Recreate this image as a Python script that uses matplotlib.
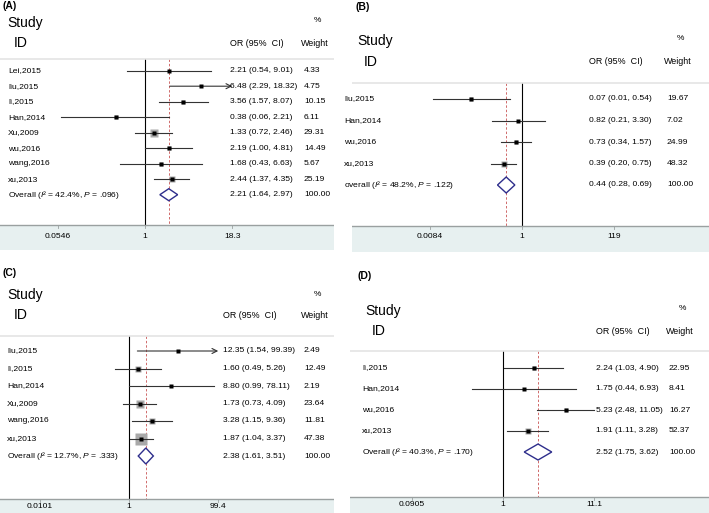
import numpy as np
import matplotlib
matplotlib.use("Agg")
import matplotlib.pyplot as plt

plt.rcParams['font.family'] = ['Liberation Sans', 'DejaVu Sans']
plt.rcParams['mathtext.fontset'] = 'custom'
plt.rcParams['mathtext.rm'] = 'Liberation Sans'
plt.rcParams['mathtext.it'] = 'Liberation Sans:italic'

# panel A
names_a = ['Lei,2015', 'liu,2015', 'li,2015', 'Han,2014', 'Xu,2009', 'wu,2016', 'wang,2016', 'xu,2013']
or_a = [2.21, 6.48, 3.56, 0.38, 1.33, 2.19, 1.68, 2.44]
lo_a = [0.54, 2.29, 1.57, 0.06, 0.72, 1.00, 0.43, 1.37]
hi_a = [9.01, 18.32, 8.07, 2.21, 2.46, 4.81, 6.63, 4.35]
w_a = [4.33, 4.75, 10.15, 6.11, 29.31, 14.49, 5.67, 25.19]
overall_a = [2.21, 1.64, 2.97]
het_a = ['Overall', '42.4%', '.096']
ticks_a = [0.0546, 1, 18.3]

# panel B
names_b = ['liu,2015', 'Han,2014', 'wu,2016', 'xu,2013']
or_b = [0.07, 0.82, 0.73, 0.39]
lo_b = [0.01, 0.21, 0.34, 0.20]
hi_b = [0.54, 3.30, 1.57, 0.75]
w_b = [19.67, 7.02, 24.99, 48.32]
overall_b = [0.44, 0.28, 0.69]
het_b = ['overall', '48.2%', '.122']
ticks_b = [0.0084, 1, 119]

# panel C
names_c = ['liu,2015', 'li,2015', 'Han,2014', 'Xu,2009', 'wang,2016', 'xu,2013']
or_c = [12.35, 1.60, 8.80, 1.73, 3.28, 1.87]
lo_c = [1.54, 0.49, 0.99, 0.73, 1.15, 1.04]
hi_c = [99.39, 5.26, 78.11, 4.09, 9.36, 3.37]
w_c = [2.49, 12.49, 2.19, 23.64, 11.81, 47.38]
overall_c = [2.38, 1.61, 3.51]
het_c = ['Overall', '12.7%', '.333']
ticks_c = [0.0101, 1, 99.4]

# panel D
names_d = ['li,2015', 'Han,2014', 'wu,2016', 'xu,2013']
or_d = [2.24, 1.75, 5.23, 1.91]
lo_d = [1.03, 0.44, 2.48, 1.11]
hi_d = [4.90, 6.93, 11.05, 3.28]
w_d = [22.95, 8.41, 16.27, 52.37]
overall_d = [2.52, 1.75, 3.62]
het_d = ['Overall', '40.3%', '.170']
ticks_d = [0.0905, 1, 11.1]

W, H = 709, 513
fig = plt.figure(figsize=(W / 100, H / 100), dpi=100)

BAND = '#e7f0f0'
LINE = '#333333'
BOX = '#a9a9a9'
DIAM = '#2e2e8c'
RED = '#d06a6a'


def panel(tag, names, ors, los, his, ws, overall, het, ticks, lay):
    L, R, top, bot = lay['L'], lay['R'], lay['top'], lay['bot']
    N, s = lay['N'], lay['s']
    ax = fig.add_axes([L / W, 1 - bot / H, (R - L) / W, (bot - top) / H])
    ax.set_xscale('log')
    ax.set_xlim(np.exp((L - N) / s), np.exp((R - N) / s))
    ax.set_ylim(bot, top)
    ax.axis('off')

    def px(x):
        return np.exp((x - N) / s)

    fs = 6.1
    # header
    ax.text(px(lay['tx']), lay['tag_y'], tag, fontsize=7.5, fontweight='bold', va='center')
    ax.text(px(lay['sx']), lay['study_y'], 'Study', fontsize=10, va='center')
    ax.text(px(lay['sx'] + 7), lay['id_y'], 'ID', fontsize=10, va='center')
    ax.text(px(lay['wx'] + 13), lay['pct_y'], '%', fontsize=6, va='center', ha='center')
    ax.text(px(lay['ox']), lay['id_y'], 'OR (95%  CI)', fontsize=6.4, va='center')
    ax.text(px(lay['wx'] - 3), lay['id_y'], 'Weight', fontsize=6.4, va='center')
    ax.plot([px(L), px(R)], [lay['hdr'], lay['hdr']], color='#e4e4e4', lw=1.2, solid_capstyle='butt')

    ys = [lay['y0'] + i * lay['dy'] for i in range(len(names) + 1)]
    xmax = ticks[-1]
    for i, nm in enumerate(names):
        y = ys[i]
        side = lay['k'] * np.sqrt(ws[i]) * 0.72
        ax.plot(ors[i], y, marker='s', ms=side, color=BOX, mec='none', zorder=2)
        if his[i] >= xmax * 0.999:
            ax.annotate('', xy=(his[i], y), xytext=(los[i], y),
                        arrowprops=dict(arrowstyle='->', color=LINE, lw=0.8,
                                        shrinkA=0, shrinkB=0, mutation_scale=9), zorder=3)
        else:
            ax.plot([los[i], his[i]], [y, y], color=LINE, lw=0.8, zorder=3)
        ax.plot(ors[i], y, marker='s', ms=2.2, color='black', mec='none', zorder=4)
        ax.text(px(lay['nx']), y, nm, fontsize=fs, va='center')
        ax.text(px(lay['ox']), y, '%.2f (%.2f, %.2f)' % (ors[i], los[i], his[i]), fontsize=fs, va='center')
        ax.text(px(lay['wx']), y, '%.2f' % ws[i], fontsize=fs, va='center')

    # overall diamond
    y = ys[-1]
    est, lo, hi = overall
    hd = lay['dh']
    ax.fill([lo, est, hi, est, lo], [y, y - hd, y, y + hd, y], facecolor='white',
            edgecolor=DIAM, lw=1.0, zorder=4)
    ax.text(px(lay['nx']), y, het[0] + ' ($I$\u00b2 = ' + het[1] + ', $P$ = ' + het[2] + ')',
            fontsize=fs, va='center')
    ax.text(px(lay['ox']), y, '%.2f (%.2f, %.2f)' % (est, lo, hi), fontsize=fs, va='center')
    ax.text(px(lay['wx']), y, '100.00', fontsize=fs, va='center')

    # null line and overall line
    ax.plot([1, 1], [lay['hdr'], lay['band']], color='black', lw=0.8, zorder=1)
    ax.plot([est, est], [lay['hdr'], lay['band']], color=RED, lw=0.7, ls=(0, (2.5, 2)), zorder=1)

    # bottom axis band
    ax.axhspan(lay['band'], lay['band_end'], color=BAND, lw=0, zorder=0)
    ax.plot([px(L), px(R)], [lay['band'], lay['band']], color='#9aa0a0', lw=1.0)
    for t in ticks:
        ax.plot([t, t], [lay['band'], lay['band'] + 3], color='#9aa0a0', lw=0.6)
        ax.text(t, lay['tick_y'], ('%g' % t), fontsize=fs, ha='center', va='center')
    return ax


lay_a = dict(L=0, R=334, top=0, bot=250, N=145, s=30, hdr=59, y0=70.7, dy=15.5,
             band=225, band_end=250, tick_y=236, nx=8, ox=230, wx=304, tx=2, tag_y=6,
             sx=7, study_y=23, id_y=43, pct_y=21, k=1.3, dh=6)
lay_b = dict(L=352, R=709, top=0, bot=252, N=522, s=19.25, hdr=83, y0=99, dy=21.5,
             band=226, band_end=252, tick_y=237, nx=344, ox=589, wx=667, tx=355, tag_y=7,
             sx=357, study_y=41, id_y=62, pct_y=39, k=1.0, dh=8)
lay_c = dict(L=0, R=334, top=258, bot=513, N=129, s=19.4, hdr=336, y0=351, dy=17.5,
             band=499, band_end=513, tick_y=507, nx=7, ox=223, wx=304, tx=3, tag_y=273,
             sx=7, study_y=295, id_y=315, pct_y=294, k=1.85, dh=8)
lay_d = dict(L=350, R=709, top=258, bot=513, N=503, s=37.9, hdr=351, y0=368, dy=21,
             band=497, band_end=513, tick_y=505, nx=362, ox=596, wx=669, tx=357, tag_y=276,
             sx=365, study_y=311, id_y=331, pct_y=308, k=0.93, dh=8)

panel('(A)', names_a, or_a, lo_a, hi_a, w_a, overall_a, het_a, ticks_a, lay_a)
panel('(B)', names_b, or_b, lo_b, hi_b, w_b, overall_b, het_b, ticks_b, lay_b)
panel('(C)', names_c, or_c, lo_c, hi_c, w_c, overall_c, het_c, ticks_c, lay_c)
panel('(D)', names_d, or_d, lo_d, hi_d, w_d, overall_d, het_d, ticks_d, lay_d)

fig.savefig('out.png', dpi=100)
